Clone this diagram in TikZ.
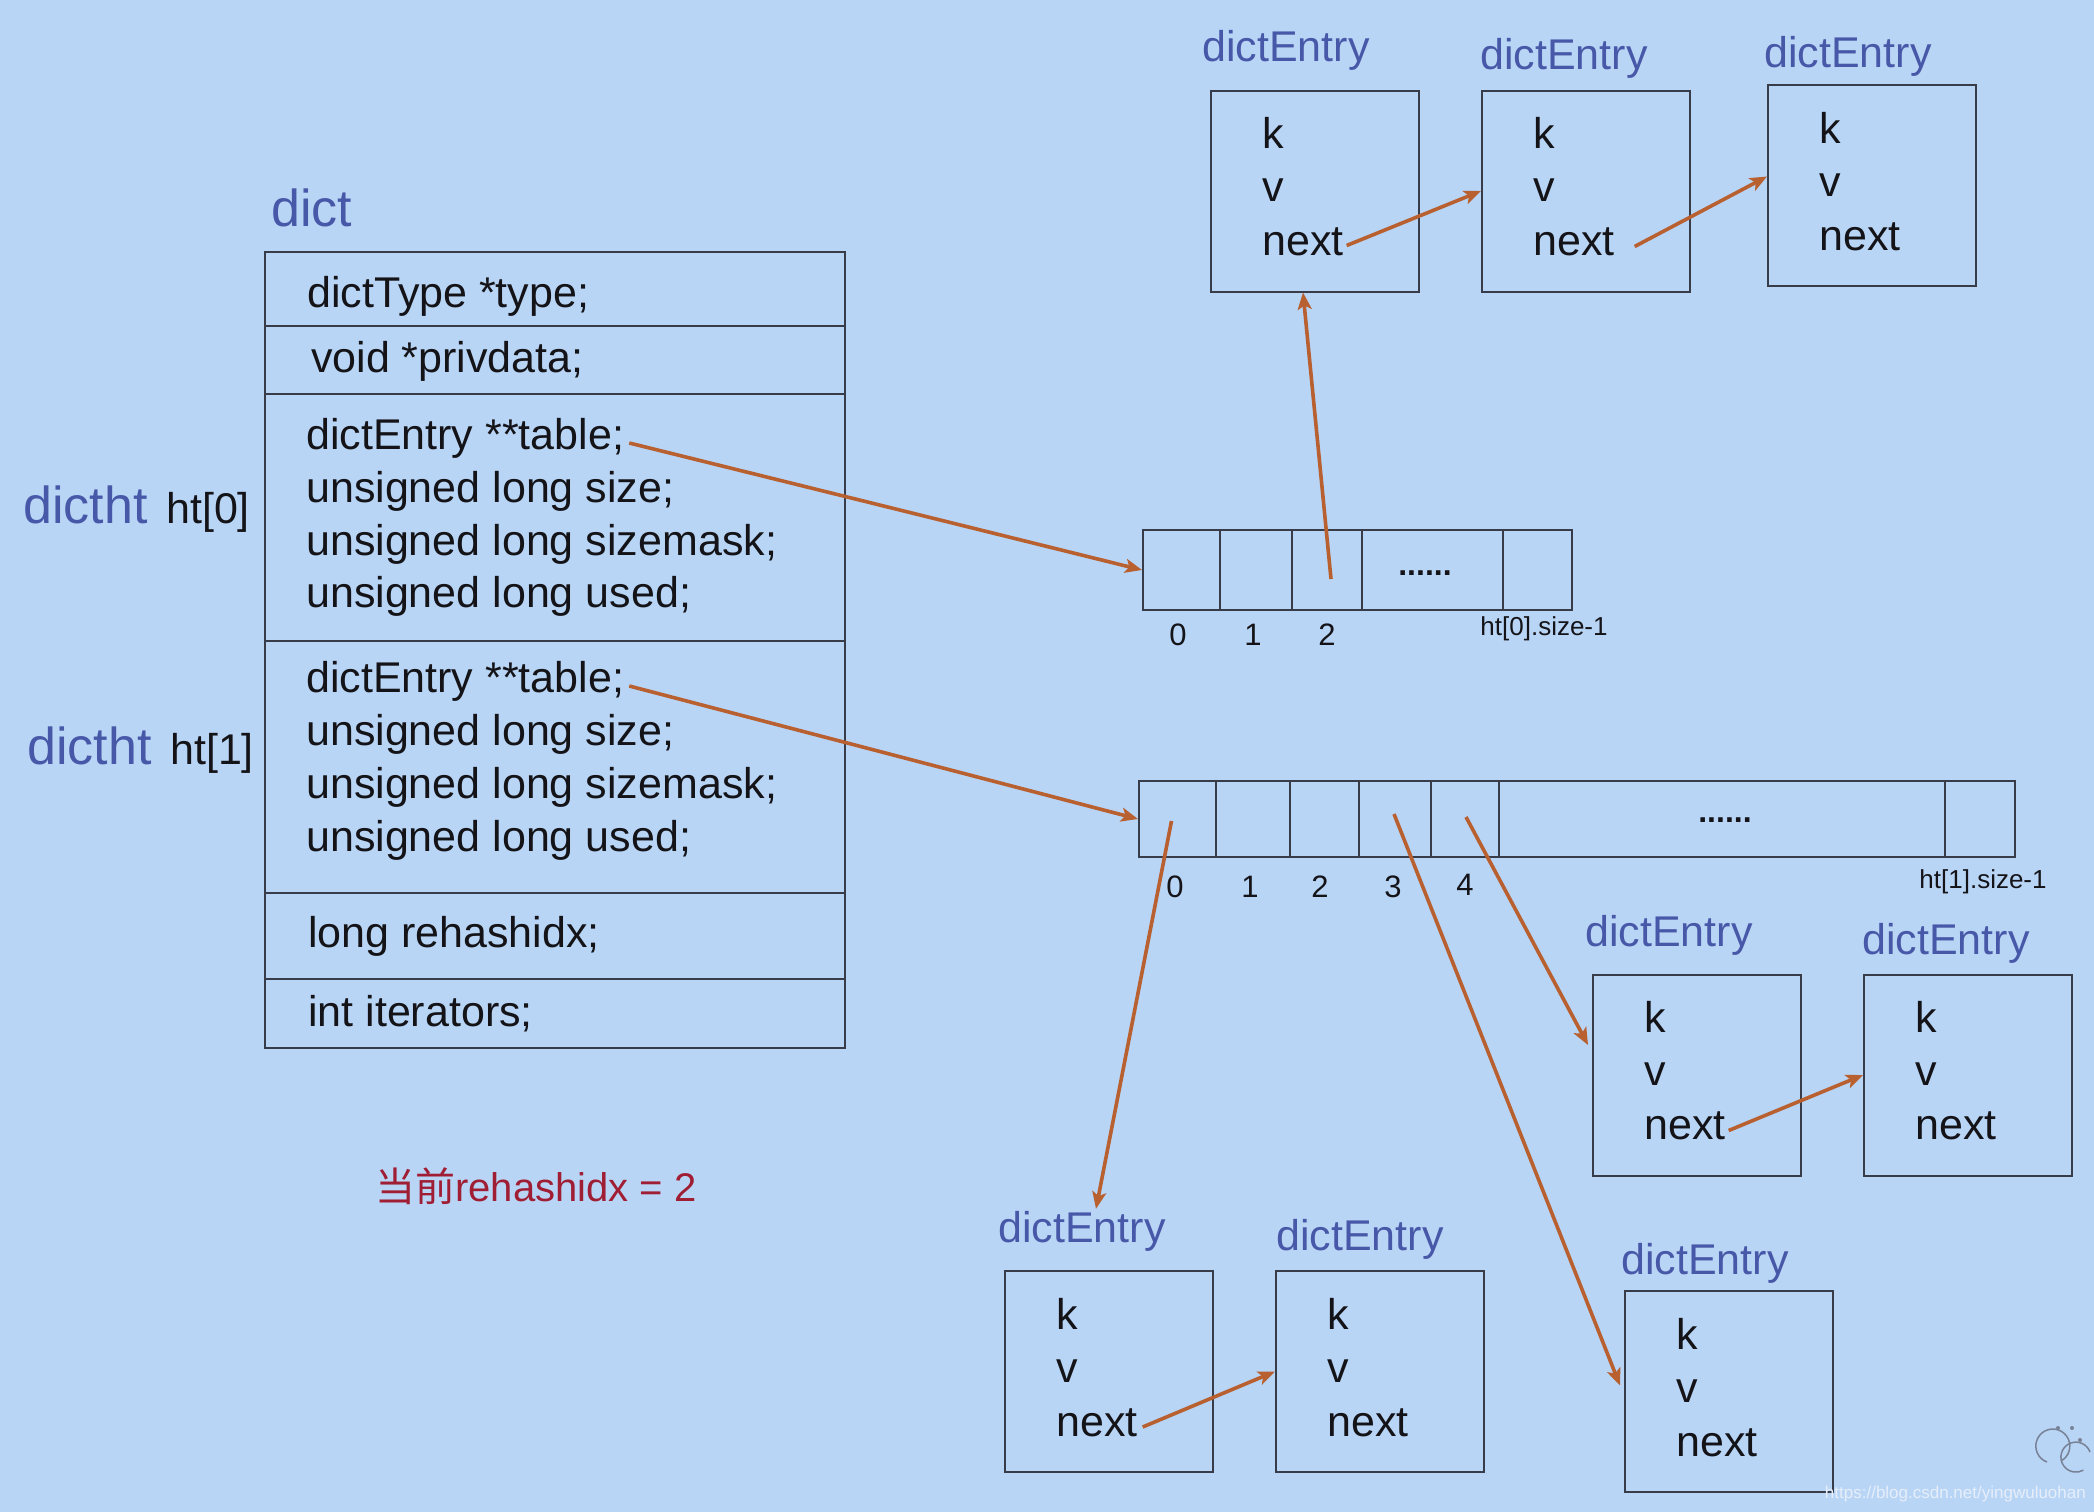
\documentclass[tikz,border=0pt]{standalone}
\usepackage{fontspec}
\setmainfont{Liberation Sans}
\newfontfamily\cjkfont{Noto Sans CJK SC}
\usetikzlibrary{arrows.meta,calc}
\definecolor{bg}{RGB}{185,213,246}
\definecolor{lblue}{RGB}{72,88,168}
\definecolor{arr}{RGB}{184,96,48}
\definecolor{ink}{RGB}{20,20,24}
\definecolor{edge}{RGB}{55,60,72}
\definecolor{redtxt}{RGB}{160,30,52}
\definecolor{wm}{RGB}{230,238,250}
\definecolor{icon}{RGB}{120,130,150}
\newcommand\entrybox[5]{%
  \node[entry] (#1) at (#2,#3) {};
  \node[body] (#1k) at ($(#1.north west)+(52,44)$) {k};
  \node[body] (#1v) at ($(#1.north west)+(52,97)$) {v};
  \node[body] (#1n) at ($(#1.north west)+(52,151)$) {next};
  \node[lbl] (#1l) at (#4,#5) {dictEntry};
}
\begin{document}
\begin{tikzpicture}[x=1pt,y=-1pt,
  body/.style={font=\fontsize{43}{50}\selectfont, text=ink, inner sep=0pt, anchor=west, text height=31pt, text depth=9pt, yshift=-4pt},
  lbl/.style={font=\fontsize{43}{50}\selectfont, text=lblue, inner sep=0pt, text height=31pt, text depth=9pt, yshift=-4pt},
  big/.style={font=\fontsize{52}{60}\selectfont, text=lblue, inner sep=0pt, anchor=base west},
  blk/.style={font=\fontsize{43}{50}\selectfont, text=ink, inner sep=0pt, anchor=base west},
  row/.style={draw=edge, line width=2pt, anchor=north west, minimum width=580pt, inner sep=0pt},
  cell/.style={draw=edge, line width=2pt, anchor=north west, inner sep=0pt},
  dots/.style={font=\bfseries\fontsize{32}{36}\selectfont, text=ink, inner sep=0pt},
  idx/.style={font=\fontsize{31}{36}\selectfont, text=ink, inner sep=0pt, yshift=-3pt},
  sz/.style={font=\fontsize{26}{30}\selectfont, text=ink, inner sep=0pt, yshift=-3pt},
  entry/.style={draw=edge, line width=2pt, anchor=north west, minimum width=208pt, minimum height=201pt, inner sep=0pt},
  ptr/.style={draw=arr, line width=3.6pt, -{Stealth[length=17pt,width=14pt,inset=4pt]}},
]
\fill[bg] (0,0) rectangle (2094,1512);
\useasboundingbox (0,0) rectangle (2094,1512);

% dict struct
\node[big] (dictlbl) at (271,226) {dict};
\node[row, minimum height=74pt] (r1) at (264,251) {};
\node[row, minimum height=68pt] (r2) at (264,325) {};
\node[row, minimum height=247pt] (r3) at (264,393) {};
\node[row, minimum height=252pt] (r4) at (264,640) {};
\node[row, minimum height=86pt] (r5) at (264,892) {};
\node[row, minimum height=69pt] (r6) at (264,978) {};

\node[body] (t1) at (307,292) {dictType *type;};
\node[body] (t2) at (311,357) {void *privdata;};
\node[body] (h0a) at (306,434) {dictEntry **table;};
\node[body] (h0b) at (306,487) {unsigned long size;};
\node[body] (h0c) at (306,540) {unsigned long sizemask;};
\node[body] (h0d) at (306,592) {unsigned long used;};
\node[body] (h1a) at (306,677) {dictEntry **table;};
\node[body] (h1b) at (306,730) {unsigned long size;};
\node[body] (h1c) at (306,783) {unsigned long sizemask;};
\node[body] (h1d) at (306,836) {unsigned long used;};
\node[body] (rh) at (308,932) {long rehashidx;};
\node[body] (itr) at (308,1011) {int iterators;};

\node[big] (dht0) at (23,523) {dictht};
\node[blk] (ht0) at (166,523) {ht[0]};
\node[big] (dht1) at (27,764) {dictht};
\node[blk] (ht1) at (170,764) {ht[1]};

\node[font=\fontsize{40}{46}\selectfont, text=redtxt, inner sep=0pt, anchor=west] (cur) at (375,1186) {{\cjkfont 当前}rehashidx = 2};

% table 0
\node[cell, minimum width=77pt, minimum height=80pt] (t0c0) at (1142,529) {};
\node[cell, minimum width=72pt, minimum height=80pt] (t0c1) at (1219,529) {};
\node[cell, minimum width=70pt, minimum height=80pt] (t0c2) at (1291,529) {};
\node[cell, minimum width=141pt, minimum height=80pt] (t0c3) at (1361,529) {};
\node[cell, minimum width=69pt, minimum height=80pt] (t0c4) at (1502,529) {};
\node[dots] (d0) at (1425,573) {......};
\node[idx] (i00) at (1178,632) {0};
\node[idx] (i01) at (1253,632) {1};
\node[idx] (i02) at (1327,632) {2};
\node[sz] (s0) at (1544,626) {ht[0].size-1};

% table 1
\node[cell, minimum width=77pt, minimum height=76pt] (t1c0) at (1138,780) {};
\node[cell, minimum width=74pt, minimum height=76pt] (t1c1) at (1215,780) {};
\node[cell, minimum width=69pt, minimum height=76pt] (t1c2) at (1289,780) {};
\node[cell, minimum width=72pt, minimum height=76pt] (t1c3) at (1358,780) {};
\node[cell, minimum width=68pt, minimum height=76pt] (t1c4) at (1430,780) {};
\node[cell, minimum width=446pt, minimum height=76pt] (t1c5) at (1498,780) {};
\node[cell, minimum width=70pt, minimum height=76pt] (t1c6) at (1944,780) {};
\node[dots] (d1) at (1725,820) {......};
\node[idx] (i10) at (1175,884) {0};
\node[idx] (i11) at (1250,884) {1};
\node[idx] (i12) at (1320,884) {2};
\node[idx] (i13) at (1393,884) {3};
\node[idx] (i14) at (1465,882) {4};
\node[sz] (s1) at (1983,879) {ht[1].size-1};

% dict entries
\entrybox{A1}{1210}{89.5}{1286}{47}
\entrybox{A2}{1481}{89.5}{1564}{55}
\entrybox{A3}{1767}{84}{1848}{53}
\entrybox{B1}{1592}{973.5}{1669}{931}
\entrybox{B2}{1863}{973.5}{1946}{939}
\entrybox{C1}{1004}{1270}{1082}{1227}
\entrybox{C2}{1275}{1270}{1360}{1235}
\entrybox{D1}{1624}{1290}{1705}{1259}

% pointers
\draw[ptr] ($(h0a.east)+(5,5)$) -- (t0c0.west);
\draw[ptr] ($(h1a.east)+(5,5)$) -- (t1c0.west);
\draw[ptr] ($(t0c2.center)+(4,9)$) -- ($(A1.south)+(-12,0)$);
\draw[ptr] ($(A1n.east)+(3,1)$) -- (A2.west);
\draw[ptr] ($(A2n.east)+(20,2)$) -- ($(A3.west)+(0,-9)$);
\draw[ptr] ($(B1n.east)+(3,2)$) -- (B2.west);
\draw[ptr] ($(C1n.east)+(5,2)$) -- (C2.west);
\draw[ptr] ($(t1c0.center)+(-6,2)$) -- ($(C1l.north)+(14,-2)$);
\draw[ptr] ($(t1c3.center)+(-1,-5)$) -- ($(D1.west)+(-4,-6)$);
\draw[ptr] ($(t1c4.center)+(1,-2)$) -- ($(B1.west)+(-4,-30)$);

% watermark
\node[font=\fontsize{17}{20}\selectfont, text=wm, inner sep=0pt, anchor=east] (wmk) at (2086,1494) {https://blog.csdn.net/yingwuluohan};
\draw[icon, line width=1.5pt] (2047,1462) arc[start angle=250, end angle=-60, radius=17pt];
\draw[icon, line width=1.5pt] (2090,1452) arc[start angle=20, end angle=300, radius=15pt];
\fill[icon] (2058,1428) circle (2pt) (2072,1428) circle (2pt) (2080,1440) circle (2pt);
\end{tikzpicture}
\end{document}
